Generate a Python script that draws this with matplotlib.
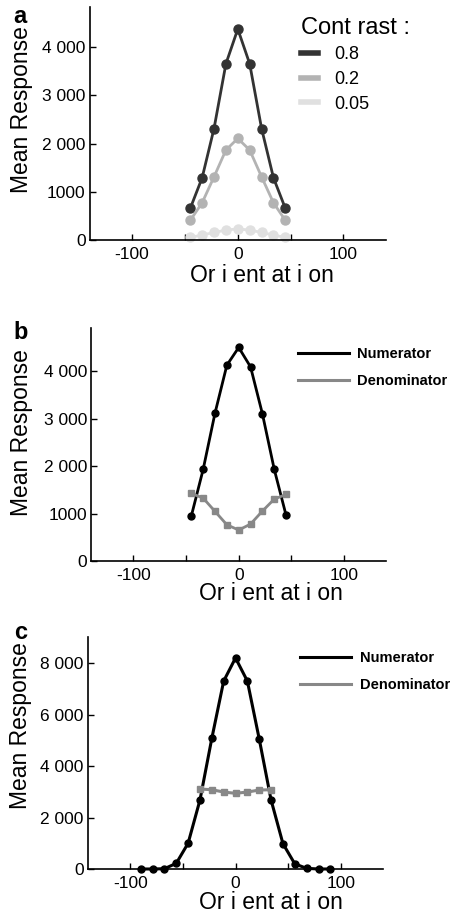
import matplotlib
matplotlib.use("Agg")
import matplotlib.pyplot as plt
import numpy as np

# ---- data ----
ori_ab = [-45, -33.75, -22.5, -11.25, 0, 11.25, 22.5, 33.75, 45]
ori_c = [-90, -78.75, -67.5, -56.25, -45, -33.75, -22.5, -11.25, 0,
         11.25, 22.5, 33.75, 45, 56.25, 67.5, 78.75, 90]
ori_c_den = [-33.75, -22.5, -11.25, 0, 11.25, 22.5, 33.75]

contrast_labels = ["0.8", "0.2", "0.05"]
resp_08 = [656, 1290, 2310, 3650, 4370, 3650, 2310, 1290, 656]
resp_02 = [408, 773, 1310, 1865, 2105, 1865, 1310, 773, 408]
resp_005 = [56, 104, 159, 207, 234, 207, 159, 104, 56]

num_b = [947, 1930, 3116, 4126, 4500, 4090, 3100, 1930, 960]
den_b = [1425, 1326, 1046, 764, 653, 779, 1053, 1305, 1404]

num_c = [0, 0, 10, 220, 1000, 2680, 5075, 7300, 8200,
         7300, 5050, 2680, 985, 200, 25, 0, 0]
den_c = [3107, 3080, 2990, 2940, 2990, 3068, 3080]

yt_a = [0, 1000, 2000, 3000, 4000]
ytl_a = ["0", "1000", "2 000", "3 000", "4 000"]
yt_c = [0, 2000, 4000, 6000, 8000]
ytl_c = ["0", "2 000", "4 000", "6 000", "8 000"]

plt.rcParams['font.family'] = ['Liberation Sans', 'DejaVu Sans']
plt.rcParams['axes.unicode_minus'] = False

fig = plt.figure(figsize=(4.56, 9.13), dpi=100)


def style_axes(ax, ylim, yticks, yticklabels, ylab_pos, xlab_pos):
	"""common look of the three panels"""
	ax.set_xlim(-140, 140)
	ax.set_ylim(*ylim)
	for s in ['top', 'right']:
		ax.spines[s].set_visible(False)
	for s in ['left', 'bottom']:
		ax.spines[s].set_linewidth(1.2)
	ax.set_xticks([-100, 0, 100])
	ax.set_xticks([-50, 50], minor=True)
	ax.set_yticks(yticks)
	ax.set_yticklabels(yticklabels)
	ax.tick_params(direction='in', length=4, width=1, labelsize=12.5, pad=3)
	ax.tick_params(axis='x', pad=5)
	ax.tick_params(which='minor', direction='in', length=4, width=1)
	ax.set_xlabel("Or i ent at i on", fontsize=16.5)
	ax.set_ylabel("Mean Response", fontsize=16.5)
	ax.yaxis.set_label_coords(*ylab_pos)
	ax.xaxis.set_label_coords(*xlab_pos)


# panel a
ax_a = fig.add_axes([0.197, 0.737, 0.649, 0.255])
cols_a = ['#333333', '#b3b3b3', '#e0e0e0']
for vals, col, lab in zip([resp_08, resp_02, resp_005], cols_a, contrast_labels):
	ax_a.plot(ori_ab, vals, color=col, lw=2, marker='o', ms=6.5, label=lab, clip_on=False)
style_axes(ax_a, (0, 4820), yt_a, ytl_a, (-0.193, 0.56), (0.58, -0.103))
leg = ax_a.legend(title="Cont rast :", loc='upper left', bbox_to_anchor=(0.69, 0.99),
	frameon=False, fontsize=13, handlelength=0.9, handletextpad=0.9,
	labelspacing=0.42, borderaxespad=0)
leg.get_title().set_fontsize(17)
leg._legend_box.align = "left"
for line in leg.get_lines():
	line.set_linewidth(4)
	line.set_marker('')

# panel b
ax_b = fig.add_axes([0.2, 0.3855, 0.647, 0.255])
ax_b.plot(ori_ab, num_b, color='black', lw=2, marker='o', ms=5, label='Numerator', clip_on=False)
ax_b.plot(ori_ab, den_b, color='#888888', lw=2, marker='s', ms=4.5, label='Denominator', clip_on=False)
style_axes(ax_b, (0, 4905), yt_a, ytl_a, (-0.197, 0.55), (0.61, -0.09))

# panel c
ax_c = fig.add_axes([0.193, 0.0482, 0.647, 0.254])
ax_c.plot(ori_c, num_c, color='black', lw=2.2, marker='o', ms=5, label='Numerator', clip_on=False)
ax_c.plot(ori_c_den, den_c, color='#888888', lw=2.2, marker='s', ms=4.5, label='Denominator', clip_on=False)
style_axes(ax_c, (0, 9010), yt_c, ytl_c, (-0.19, 0.62), (0.62, -0.097))

for ax, anchor in [(ax_b, (0.68, 0.945)), (ax_c, (0.70, 0.966))]:
	lg = ax.legend(loc='upper left', bbox_to_anchor=anchor, frameon=False,
		prop={'weight': 'bold', 'size': 10.5},
		handlelength=3.5, handletextpad=0.6, labelspacing=0.9, borderaxespad=0)
	for line in lg.get_lines():
		line.set_linewidth(2.2)
		line.set_marker('')

# panel letters
fig.text(0.03, 0.995, "a", fontsize=17, fontweight='bold', va='top')
fig.text(0.03, 0.648, "b", fontsize=17, fontweight='bold', va='top')
fig.text(0.03, 0.320, "c", fontsize=17, fontweight='bold', va='top')

plt.savefig("out.png", dpi=100)
